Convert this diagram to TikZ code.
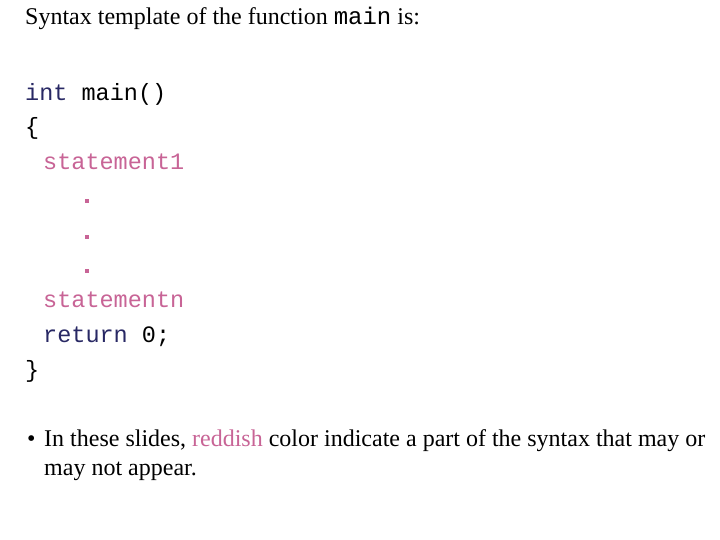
\documentclass[tikz,border=0pt]{standalone}
\usepackage{fontspec}
\setmainfont{Liberation Serif}
\setmonofont{Liberation Mono}
\definecolor{kw}{RGB}{40,40,100}
\definecolor{opt}{RGB}{200,100,150}
\begin{document}
\begin{tikzpicture}[x=1pt,y=1pt,
  txt/.style={anchor=base west,inner sep=0pt,font=\fontsize{24}{28}\selectfont},
  code/.style={anchor=base west,inner sep=0pt,font=\fontsize{23.5}{28}\selectfont\ttfamily},
  dotc/.style={fill=opt,minimum size=4pt,inner sep=0pt}]
\useasboundingbox[fill=white] (0,0) rectangle (720,-540);
\node[txt] (title) at (25,-25) {Syntax template of the function \texttt{main} is:};
\node[code] (l1) at (25,-101) {\textcolor{kw}{int} main()};
\node[code] (l2) at (25,-135) {\{};
\node[code,opt] (l3) at (43,-170) {statement1};
\node[dotc] (d1) at (87,-201) {};
\node[dotc] (d2) at (87,-237) {};
\node[dotc] (d3) at (87,-271) {};
\node[code,opt] (l4) at (43,-307) {statementn};
\node[code] (l5) at (43,-342) {\textcolor{kw}{return} 0;};
\node[code] (l6) at (25,-377) {\}};
\node[txt] (b) at (27,-446) {\textbullet};
\node[txt] (b1) at (44,-446) {In these slides, \textcolor{opt}{reddish} color indicate a part of the syntax that may or};
\node[txt] (b2) at (44,-475) {may not appear.};
\end{tikzpicture}
\end{document}
